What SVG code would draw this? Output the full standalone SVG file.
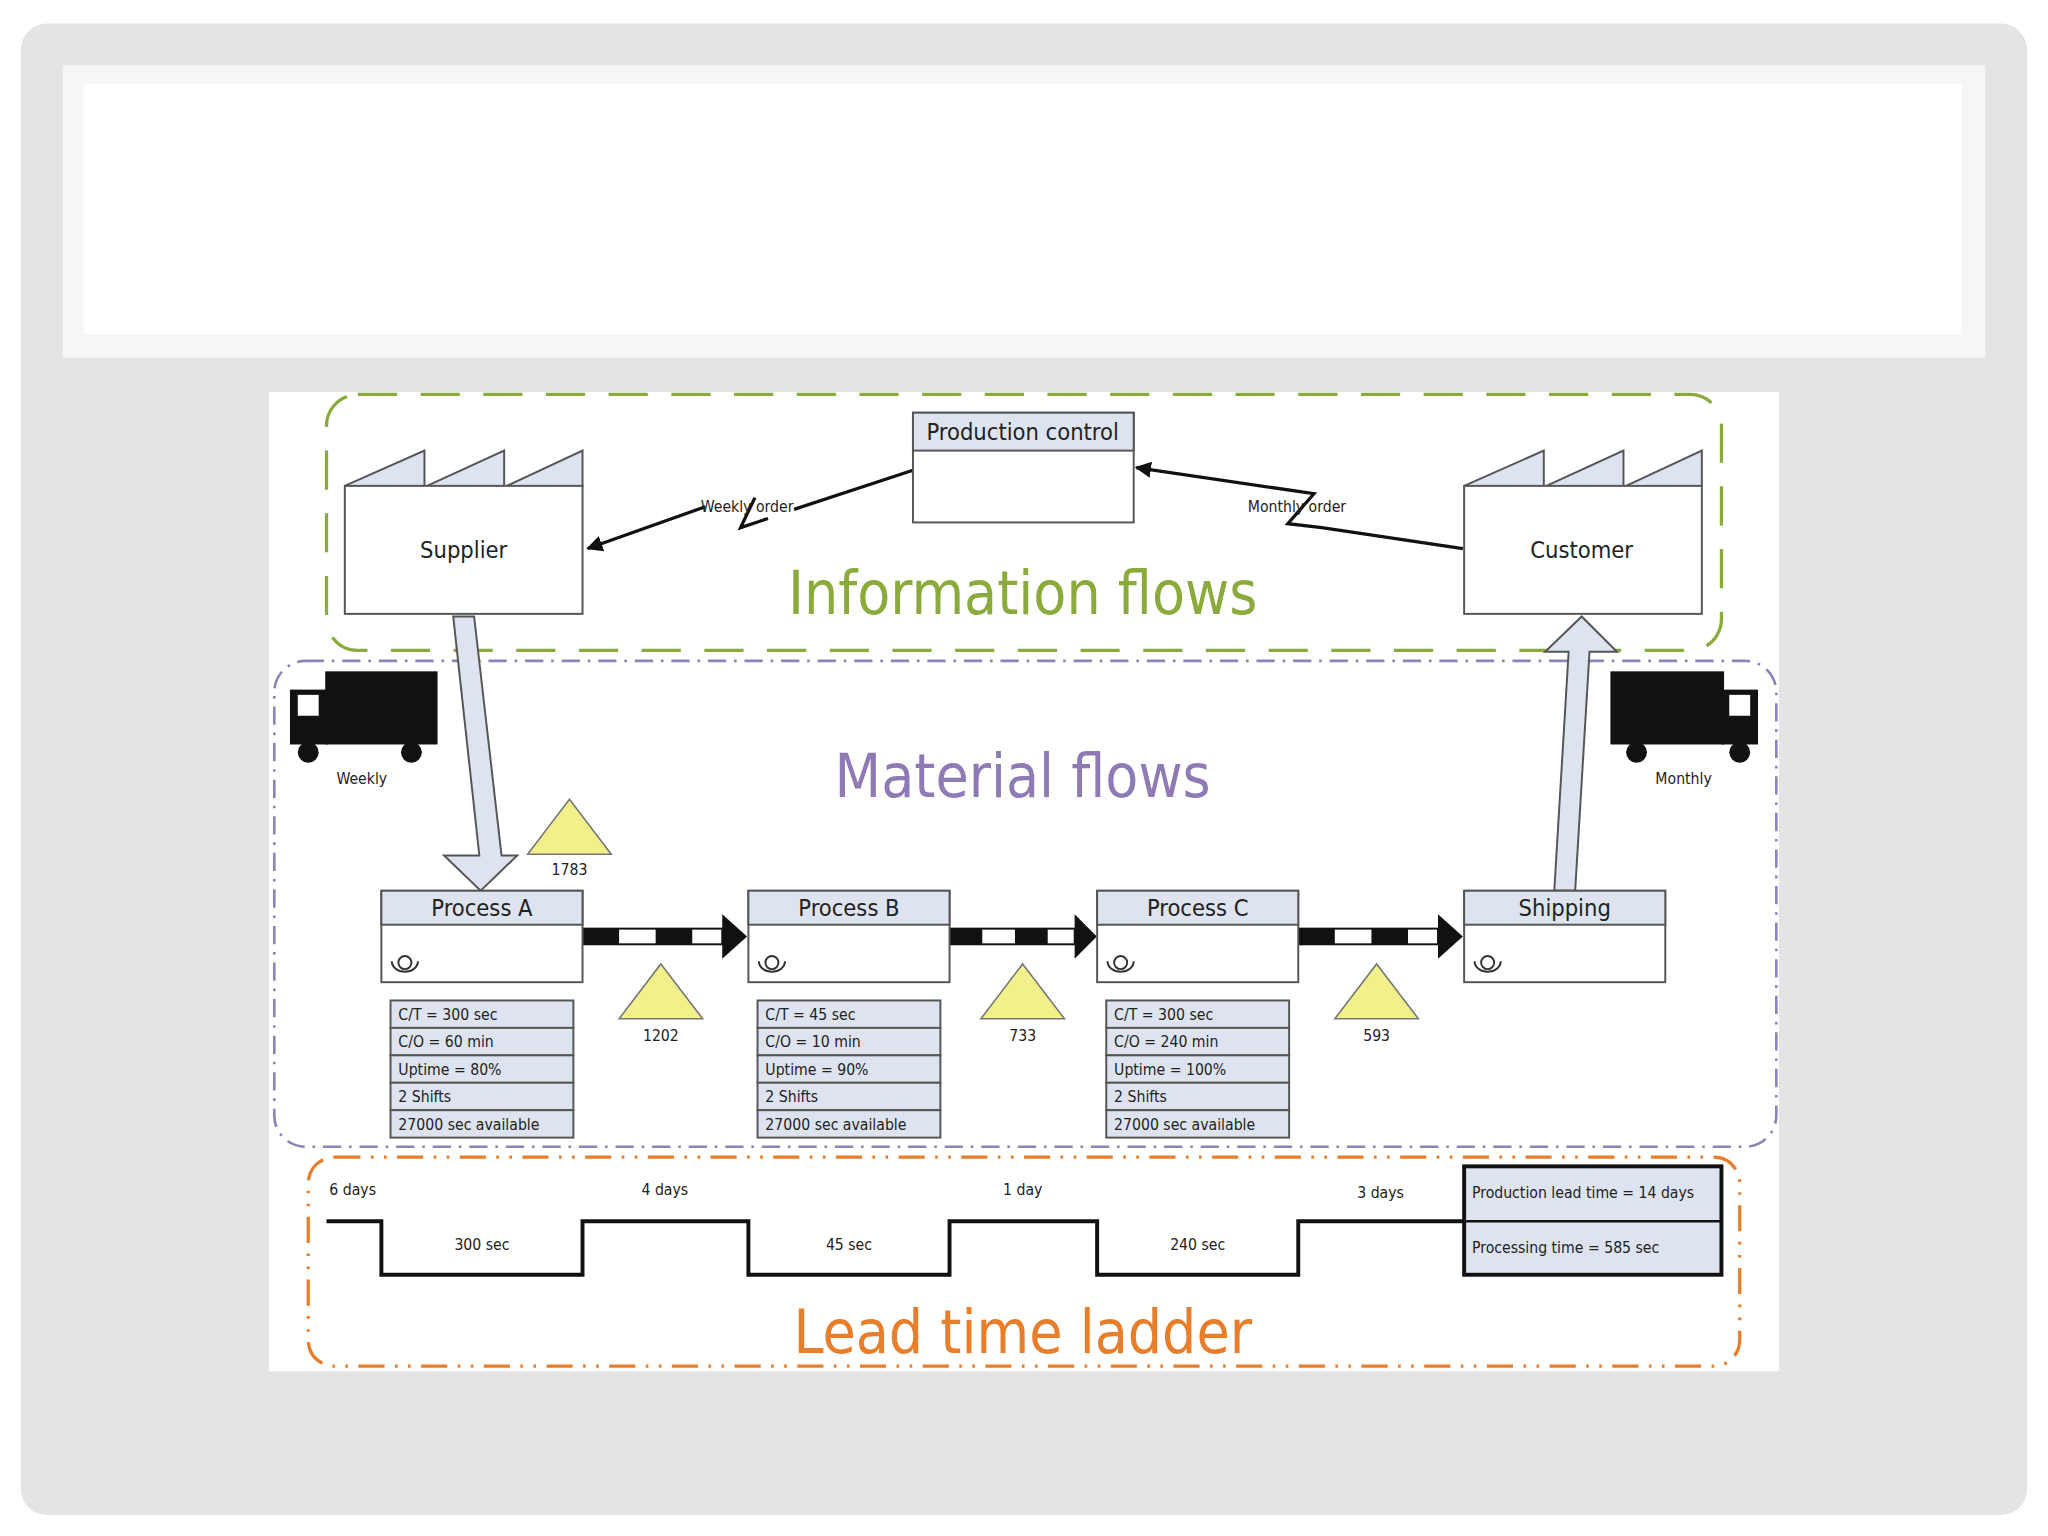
<svg xmlns="http://www.w3.org/2000/svg" width="2048" height="1536" viewBox="0 0 2048 1536">
<style>
text{font-family:"DejaVu Sans Condensed","DejaVu Sans",sans-serif;fill:#222}
.big{font-size:46px;text-anchor:middle}
.t{font-size:18px;text-anchor:middle}
.s{font-size:12px}
.sm{font-size:12px;text-anchor:middle}
.box{fill:#fff;stroke:#555;stroke-width:1.5}
.hd{fill:#dde4ef;stroke:#555;stroke-width:1.5}
.inv{fill:#f2f08a;stroke:#777;stroke-width:1.2}
.ln{fill:none;stroke:#111;stroke-width:2.5}
</style>
<defs>
<marker id="ah" viewBox="0 0 10 10" refX="9" refY="5" markerWidth="5" markerHeight="5" orient="auto"><path d="M0,0L10,5L0,10z" fill="#111"/></marker>
<g id="push"><rect x="0" y="-6" width="107" height="12" fill="#fff" stroke="#111" stroke-width="1.5"/><rect x="0" y="-6" width="28" height="12" fill="#111"/><rect x="56" y="-6" width="28" height="12" fill="#111"/><path d="M107,-17L126,0L107,17z" fill="#111"/></g>
<g id="op"><path d="M-10,-4 A10,8 0 0 0 10,-4" fill="none" stroke="#333" stroke-width="1.5"/><circle cx="0" cy="-3" r="5" fill="none" stroke="#333" stroke-width="1.5"/></g>
<g id="tri"><path d="M0,0L32,42L-32,42z" class="inv"/></g>
</defs>
<rect width="2048" height="1536" fill="#fff"/>
<g transform="scale(1.3061)">
<rect x="16" y="18" width="1536" height="1142" rx="20" fill="#e4e4e6"/>
<rect x="48" y="50" width="1472" height="224" fill="#f6f6f6"/>
<rect x="64" y="64" width="1438" height="192" fill="#fff"/>
<rect x="206" y="300" width="1156" height="750" fill="#fff"/>
<g id="regions" fill="none" stroke-width="2.5">
<rect x="250" y="302" width="1068" height="196" rx="24" stroke="#8aaa3c" stroke-dasharray="30,18"/>
<rect x="210" y="506" width="1150" height="372" rx="24" stroke="#8a84b8" stroke-width="2" stroke-dasharray="14,6,2,6"/>
<rect x="236" y="886" width="1096" height="160" rx="20" stroke="#e87d2a" stroke-dasharray="20,8,2,8,2,8"/>
</g>
<text class="big" x="783" y="470" style="fill:#8aaa3c">Information flows</text>
<text class="big" x="783" y="610" style="fill:#8e7bb5">Material flows</text>
<text class="big" x="783" y="1036" style="fill:#e87d2a">Lead time ladder</text>
<g id="connectors">
<path class="ln" d="M699,360L608,390M578,381L567,404L588,397M540,388L450,420" marker-end="url(#ah)"/>
<path class="ln" d="M1120,420L1012,404L986,401L1006,378L870,358" marker-end="url(#ah)"/>
<polygon points="347,472 363,472 384,655 396,655 368,682 340,655 367,655" fill="#dde4ef" stroke="#555" stroke-width="1.5"/>
<polygon points="1190,682 1206,682 1217,499 1238,499 1211,472 1183,499 1201,499" fill="#dde4ef" stroke="#555" stroke-width="1.5"/>
<use href="#push" x="446" y="717"/><use href="#push" transform="translate(727,717) scale(0.895,1)"/><use href="#push" x="994" y="717"/>
</g>
<g id="production-control"><rect class="box" x="699" y="316" width="169" height="84"/><rect class="hd" x="699" y="316" width="169" height="29"/><text class="t" x="783" y="337">Production control</text></g>
<g id="supplier"><path d="M264,372L325,345L325,372ZM327,372L386,345L386,372ZM388,372L446,345L446,372Z" class="hd"/><rect class="box" x="264" y="372" width="182" height="98"/><text class="t" x="355" y="427">Supplier</text></g>
<g id="customer"><path d="M1121,372L1182,345L1182,372ZM1184,372L1243,345L1243,372ZM1245,372L1303,345L1303,372Z" class="hd"/><rect class="box" x="1121" y="372" width="182" height="98"/><text class="t" x="1211" y="427">Customer</text></g>
<text class="sm" x="572" y="392">Weekly order</text>
<text class="sm" x="993" y="392">Monthly order</text>
<g id="truck-weekly"><rect x="249" y="514" width="86" height="56" fill="#111"/><rect x="222" y="528" width="29" height="42" fill="#111"/><rect x="228" y="532" width="16" height="16" fill="#fff"/><circle cx="236" cy="576" r="8" fill="#111"/><circle cx="315" cy="576" r="8" fill="#111"/><text class="sm" x="277" y="600">Weekly</text></g>
<g id="truck-monthly"><rect x="1233" y="514" width="87" height="56" fill="#111"/><rect x="1318" y="528" width="28" height="42" fill="#111"/><rect x="1324" y="532" width="16" height="16" fill="#fff"/><circle cx="1253" cy="576" r="8" fill="#111"/><circle cx="1332" cy="576" r="8" fill="#111"/><text class="sm" x="1289" y="600">Monthly</text></g>
<g id="inv1783"><use href="#tri" x="436" y="612"/><text class="sm" x="436" y="670">1783</text></g>
<g id="inv1202"><use href="#tri" x="506" y="738"/><text class="sm" x="506" y="797">1202</text></g>
<g id="inv733"><use href="#tri" x="783" y="738"/><text class="sm" x="783" y="797">733</text></g>
<g id="inv593"><use href="#tri" x="1054" y="738"/><text class="sm" x="1054" y="797">593</text></g>
<g id="process-a"><rect class="box" x="292" y="682" width="154" height="70"/><rect class="hd" x="292" y="682" width="154" height="26"/><text class="t" x="369" y="701">Process A</text><use href="#op" x="310" y="740"/></g>
<g id="process-b"><rect class="box" x="573" y="682" width="154" height="70"/><rect class="hd" x="573" y="682" width="154" height="26"/><text class="t" x="650" y="701">Process B</text><use href="#op" x="591" y="740"/></g>
<g id="process-c"><rect class="box" x="840" y="682" width="154" height="70"/><rect class="hd" x="840" y="682" width="154" height="26"/><text class="t" x="917" y="701">Process C</text><use href="#op" x="858" y="740"/></g>
<g id="shipping"><rect class="box" x="1121" y="682" width="154" height="70"/><rect class="hd" x="1121" y="682" width="154" height="26"/><text class="t" x="1198" y="701">Shipping</text><use href="#op" x="1139" y="740"/></g>
<g id="data-a"><rect class="hd" x="299" y="766" width="140" height="21"/><rect class="hd" x="299" y="787" width="140" height="21"/><rect class="hd" x="299" y="808" width="140" height="21"/><rect class="hd" x="299" y="829" width="140" height="21"/><rect class="hd" x="299" y="850" width="140" height="21"/>
<text class="s" x="305" y="781">C/T = 300 sec</text><text class="s" x="305" y="802">C/O = 60 min</text><text class="s" x="305" y="823">Uptime = 80%</text><text class="s" x="305" y="844">2 Shifts</text><text class="s" x="305" y="865">27000 sec available</text></g>
<g id="data-b"><rect class="hd" x="580" y="766" width="140" height="21"/><rect class="hd" x="580" y="787" width="140" height="21"/><rect class="hd" x="580" y="808" width="140" height="21"/><rect class="hd" x="580" y="829" width="140" height="21"/><rect class="hd" x="580" y="850" width="140" height="21"/>
<text class="s" x="586" y="781">C/T = 45 sec</text><text class="s" x="586" y="802">C/O = 10 min</text><text class="s" x="586" y="823">Uptime = 90%</text><text class="s" x="586" y="844">2 Shifts</text><text class="s" x="586" y="865">27000 sec available</text></g>
<g id="data-c"><rect class="hd" x="847" y="766" width="140" height="21"/><rect class="hd" x="847" y="787" width="140" height="21"/><rect class="hd" x="847" y="808" width="140" height="21"/><rect class="hd" x="847" y="829" width="140" height="21"/><rect class="hd" x="847" y="850" width="140" height="21"/>
<text class="s" x="853" y="781">C/T = 300 sec</text><text class="s" x="853" y="802">C/O = 240 min</text><text class="s" x="853" y="823">Uptime = 100%</text><text class="s" x="853" y="844">2 Shifts</text><text class="s" x="853" y="865">27000 sec available</text></g>
<g id="timeline"><polyline points="250,935 292,935 292,976 446,976 446,935 573,935 573,976 727,976 727,935 840,935 840,976 994,976 994,935 1121,935" fill="none" stroke="#111" stroke-width="3"/>
<text class="sm" x="270" y="915">6 days</text><text class="sm" x="509" y="915">4 days</text><text class="sm" x="783" y="915">1 day</text><text class="sm" x="1057" y="917">3 days</text>
<text class="sm" x="369" y="957">300 sec</text><text class="sm" x="650" y="957">45 sec</text><text class="sm" x="917" y="957">240 sec</text></g>
<g id="summary"><rect x="1121" y="893" width="197" height="83" fill="#dde4ef" stroke="#111" stroke-width="3"/><line x1="1121" y1="935" x2="1318" y2="935" stroke="#111" stroke-width="2"/>
<text class="s" x="1127" y="917">Production lead time = 14 days</text><text class="s" x="1127" y="959">Processing time = 585 sec</text></g>
</g>
</svg>
